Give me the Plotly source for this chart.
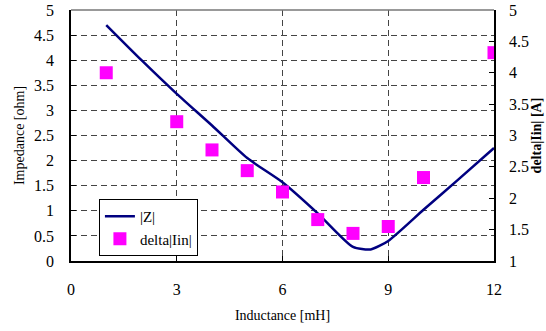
import plotly.graph_objects as go

# |Z| curve (left axis, ohm)
z_x = [1, 2, 3, 4, 5, 6, 7, 8, 8.5, 9, 10, 11, 12]
z_y = [4.7, 4.0, 3.33, 2.7, 2.05, 1.57, 0.95, 0.28, 0.23, 0.4, 1.02, 1.63, 2.25]

# delta|Iin| markers (right axis, A)
d_x = [1, 3, 4, 5, 6, 7, 8, 9, 10, 12]
d_y = [4.0, 3.22, 2.77, 2.44, 2.10, 1.66, 1.44, 1.55, 2.33, 4.32]

x_ticks = [0, 3, 6, 9, 12]
y_ticks = [0, 0.5, 1, 1.5, 2, 2.5, 3, 3.5, 4, 4.5, 5]
y2_ticks = [1, 1.5, 2, 2.5, 3, 3.5, 4, 4.5, 5]

FONT = "Liberation Serif, Times New Roman, serif"
TICKFONT = dict(family=FONT, size=16, color="black")
TITLEFONT = dict(family=FONT, size=14, color="black")

fig = go.Figure()
fig.add_trace(go.Scatter(x=z_x, y=z_y, mode="lines", name="|Z|",
                         line=dict(color="#000080", width=2.5, shape="spline", smoothing=0.6)))
fig.add_trace(go.Scatter(x=d_x, y=d_y, mode="markers", name="delta|Iin|", yaxis="y2",
                         marker=dict(symbol="square", size=13, color="#FF00FF",
                                     line=dict(width=0))))

grid = dict(showgrid=True, gridcolor="#444444", griddash="6px,4px", gridwidth=1)

fig.update_layout(
    width=546, height=331,
    margin=dict(l=71, r=52, t=10, b=70, autoexpand=False),
    paper_bgcolor="white", plot_bgcolor="white",
    font=dict(family=FONT, size=14, color="black"),
    showlegend=True,
    legend=dict(x=0.066, y=0.247, xanchor="left", yanchor="top",
                bgcolor="white", bordercolor="black", borderwidth=1,
                font=dict(family=FONT, size=15), tracegroupgap=0,
                itemwidth=30),
    xaxis=dict(range=[0, 12], tickvals=x_ticks, ticktext=[str(v) for v in x_ticks],
               showline=True, linecolor="black", linewidth=1.5,
               ticks="inside", ticklen=5, tickcolor="black",
               tickfont=TICKFONT, automargin=False,
               ticklabelstandoff=13, zeroline=False,
               title=dict(text="Inductance [mH]", standoff=13, font=TITLEFONT),
               **grid),
    yaxis=dict(range=[0, 5], tickvals=y_ticks, ticktext=[f"{v:g}" for v in y_ticks],
               showline=True, linecolor="black", linewidth=1.5,
               ticks="inside", ticklen=5, tickcolor="black",
               tickfont=TICKFONT, automargin=False,
               ticklabelstandoff=12, zeroline=False,
               title=dict(text="Impedance [ohm]", standoff=6, font=TITLEFONT),
               **grid),
    yaxis2=dict(range=[1, 5], tickvals=y2_ticks, ticktext=[f"{v:g}" for v in y2_ticks],
                overlaying="y", side="right", showgrid=False, zeroline=False,
                showline=True, linecolor="black", linewidth=1.5,
                ticks="inside", ticklen=5, tickcolor="black",
                tickfont=TICKFONT, automargin=False,
                ticklabelstandoff=10,
                title=dict(text="<b>delta|Iin| [A]</b>", standoff=2, font=TITLEFONT)),
    shapes=[dict(type="line", xref="paper", yref="paper", x0=0, x1=1, y0=1, y1=1,
                 line=dict(color="#777777", width=1.5))],
)

fig.write_html("out.html", config={"displayModeBar": False},
               post_script="document.body.style.margin='0';document.body.style.overflow='hidden';")
